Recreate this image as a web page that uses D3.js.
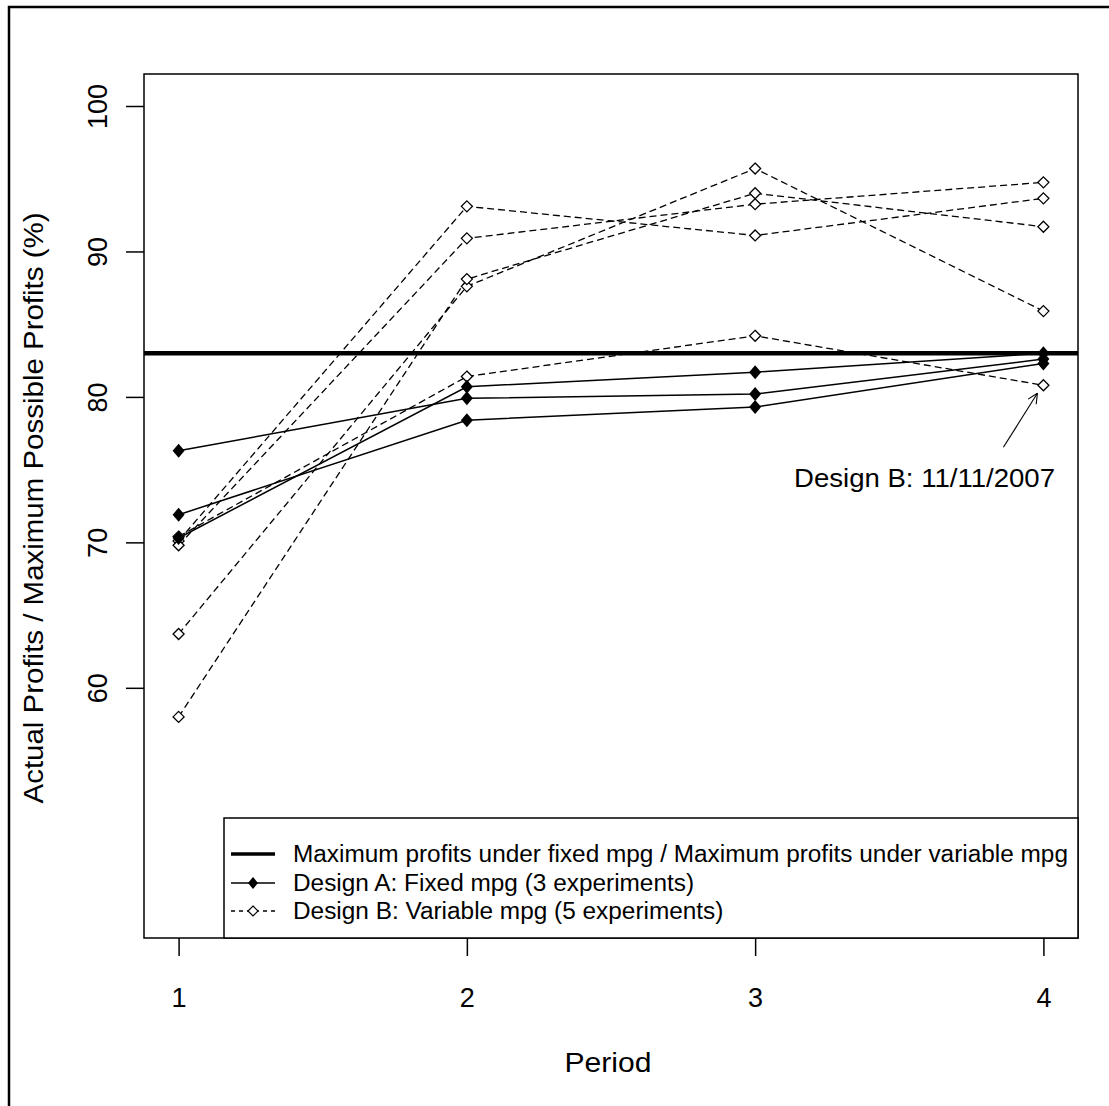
<!DOCTYPE html>
<html>
<head>
<meta charset="utf-8">
<script src="https://cdn.jsdelivr.net/npm/d3@7"></script>
<style>
  body { margin: 0; background: #fff; }
  text { font-family: Arial, "Liberation Sans", sans-serif; fill: #000; }
</style>
</head>
<body>
<svg id="chart" width="1109" height="1106"></svg>
<script>
// periods on the x axis
var periods = [1, 2, 3, 4];
var yTicks = [60, 70, 80, 90, 100];

// Design A: fixed mpg (3 experiments)
var designA = [
  [76.3, 79.9, 80.2, 82.6],
  [71.9, 78.4, 79.3, 82.3],
  [70.3, 80.7, 81.7, 83.0]
];

// Design B: variable mpg (5 experiments)
var designB = [
  [70.1, 93.1, 91.1, 93.65],
  [69.8, 90.9, 93.25, 94.75],
  [63.7, 87.6, 95.7, 85.9],
  [58.0, 88.1, 94.0, 91.7],
  [70.4, 81.4, 84.2, 80.8]
];

// maximum profits ratio
var maxLine = 83.0;

var annotation = { label: "Design B: 11/11/2007", period: 4, value: 80.8 };

var legendLabels = [
  "Maximum profits under fixed mpg / Maximum profits under variable mpg",
  "Design A: Fixed mpg (3 experiments)",
  "Design B: Variable mpg (5 experiments)"
];

var svg = d3.select("#chart");

// plot box
var pLeft = 144, pRight = 1078, pTop = 74, pBottom = 938;

var x = d3.scaleLinear().domain([0.88, 4.12]).range([pLeft, pRight]);
var y = d3.scaleLinear().domain([42.8, 102.2]).range([pBottom, pTop]);

// outer figure frame (open on right and bottom)
svg.append("path")
  .attr("d", "M9,1106 V7 H1109")
  .attr("fill", "none").attr("stroke", "#000").attr("stroke-width", 2.5);

var line = d3.line()
  .x(function (d, i) { return x(periods[i]); })
  .y(function (d) { return y(d); });

var plot = svg.append("g");

// design B dashed lines
designB.forEach(function (s) {
  plot.append("path")
    .attr("d", line(s))
    .attr("fill", "none").attr("stroke", "#000")
    .attr("stroke-width", 1.3).attr("stroke-dasharray", "7,4");
});

// design A solid lines
designA.forEach(function (s) {
  plot.append("path")
    .attr("d", line(s))
    .attr("fill", "none").attr("stroke", "#000").attr("stroke-width", 1.5);
});

// thick max line
plot.append("line")
  .attr("x1", pLeft).attr("x2", pRight)
  .attr("y1", y(maxLine)).attr("y2", y(maxLine))
  .attr("stroke", "#000").attr("stroke-width", 4.5);

var openDiamond = "M0,-5.5 L5.5,0 L0,5.5 L-5.5,0 Z";
var filledDiamond = "M0,-7 L6,0 L0,7 L-6,0 Z";

designB.forEach(function (s) {
  plot.selectAll(null).data(s).enter().append("path")
    .attr("d", openDiamond)
    .attr("transform", function (d, i) { return "translate(" + x(periods[i]) + "," + y(d) + ")"; })
    .attr("fill", "#fff").attr("stroke", "#000").attr("stroke-width", 1.3);
});

designA.forEach(function (s) {
  plot.selectAll(null).data(s).enter().append("path")
    .attr("d", filledDiamond)
    .attr("transform", function (d, i) { return "translate(" + x(periods[i]) + "," + y(d) + ")"; })
    .attr("fill", "#000");
});

// axes
var xAxis = svg.append("g")
  .attr("transform", "translate(0," + pBottom + ")")
  .call(d3.axisBottom(x).tickValues(periods).tickSize(18).tickPadding(32).tickFormat(d3.format("d")));
xAxis.select(".domain").remove();
xAxis.selectAll("line").attr("stroke", "#000").attr("stroke-width", 1.5);
xAxis.selectAll("text").attr("font-size", 27).attr("font-family", "Arial, 'Liberation Sans', sans-serif");

var yAxis = svg.append("g")
  .attr("transform", "translate(" + pLeft + ",0)")
  .call(d3.axisLeft(y).tickValues(yTicks).tickSize(18).tickFormat(d3.format("d")));
yAxis.select(".domain").remove();
yAxis.selectAll("line").attr("stroke", "#000").attr("stroke-width", 1.5);
yAxis.selectAll("text")
  .attr("font-size", 27).attr("font-family", "Arial, 'Liberation Sans', sans-serif")
  .attr("x", null).attr("dy", "0.35em")
  .attr("text-anchor", "middle")
  .attr("transform", "translate(-46,0) rotate(-90)");

// plot box
svg.append("rect")
  .attr("x", pLeft).attr("y", pTop)
  .attr("width", pRight - pLeft).attr("height", pBottom - pTop)
  .attr("fill", "none").attr("stroke", "#000").attr("stroke-width", 1.5);

// axis titles
svg.append("text")
  .attr("x", 608).attr("y", 1072)
  .attr("text-anchor", "middle").attr("font-size", 28)
  .attr("textLength", 87).attr("lengthAdjust", "spacingAndGlyphs")
  .text("Period");

svg.append("text")
  .attr("transform", "translate(43,508) rotate(-90)")
  .attr("text-anchor", "middle").attr("font-size", 27)
  .attr("textLength", 591).attr("lengthAdjust", "spacingAndGlyphs")
  .text("Actual Profits / Maximum Possible Profits (%)");

// annotation with arrow
var ax = x(annotation.period), ay = y(annotation.value);
var sx = ax - 40, sy = ay + 62;
var ex = ax - 6, ey = ay + 8;
svg.append("line")
  .attr("x1", sx).attr("y1", sy).attr("x2", ex).attr("y2", ey)
  .attr("stroke", "#000").attr("stroke-width", 1.1);
var ang = Math.atan2(ey - sy, ex - sx);
[0.45, -0.45].forEach(function (a) {
  svg.append("line")
    .attr("x1", ex).attr("y1", ey)
    .attr("x2", ex - 11 * Math.cos(ang + a)).attr("y2", ey - 11 * Math.sin(ang + a))
    .attr("stroke", "#000").attr("stroke-width", 1.1);
});
svg.append("text")
  .attr("x", 794).attr("y", 487)
  .attr("font-size", 26.5)
  .attr("textLength", 261).attr("lengthAdjust", "spacingAndGlyphs")
  .text(annotation.label);

// legend
var lg = svg.append("g");
lg.append("rect")
  .attr("x", 224).attr("y", 818)
  .attr("width", pRight - 224).attr("height", pBottom - 818)
  .attr("fill", "#fff").attr("stroke", "#000").attr("stroke-width", 1.5);

var rowsY = [854, 883, 911];
lg.append("line").attr("x1", 231).attr("x2", 275).attr("y1", rowsY[0]).attr("y2", rowsY[0])
  .attr("stroke", "#000").attr("stroke-width", 3.5);
lg.append("line").attr("x1", 231).attr("x2", 275).attr("y1", rowsY[1]).attr("y2", rowsY[1])
  .attr("stroke", "#000").attr("stroke-width", 1.5);
lg.append("path").attr("d", "M0,-6 L5,0 L0,6 L-5,0 Z")
  .attr("transform", "translate(253," + rowsY[1] + ")").attr("fill", "#000");
lg.append("line").attr("x1", 231).attr("x2", 275).attr("y1", rowsY[2]).attr("y2", rowsY[2])
  .attr("stroke", "#000").attr("stroke-width", 1.3).attr("stroke-dasharray", "4,4");
lg.append("path").attr("d", "M0,-5 L5,0 L0,5 L-5,0 Z")
  .attr("transform", "translate(253," + rowsY[2] + ")")
  .attr("fill", "#fff").attr("stroke", "#000").attr("stroke-width", 1.2);

var legendText = lg.selectAll(".lt").data(legendLabels).enter().append("text")
  .attr("x", 293).attr("y", function (d, i) { return rowsY[i]; })
  .attr("dy", "0.35em").attr("font-size", 23.5)
  .text(function (d) { return d; });

// stretch to the reference text width (first label spans ~775px)
var w0 = legendText.node().getComputedTextLength();
var k = 775 / w0;
legendText.each(function () {
  var t = d3.select(this);
  t.attr("textLength", this.getComputedTextLength() * k).attr("lengthAdjust", "spacingAndGlyphs");
});
</script>
</body>
</html>
